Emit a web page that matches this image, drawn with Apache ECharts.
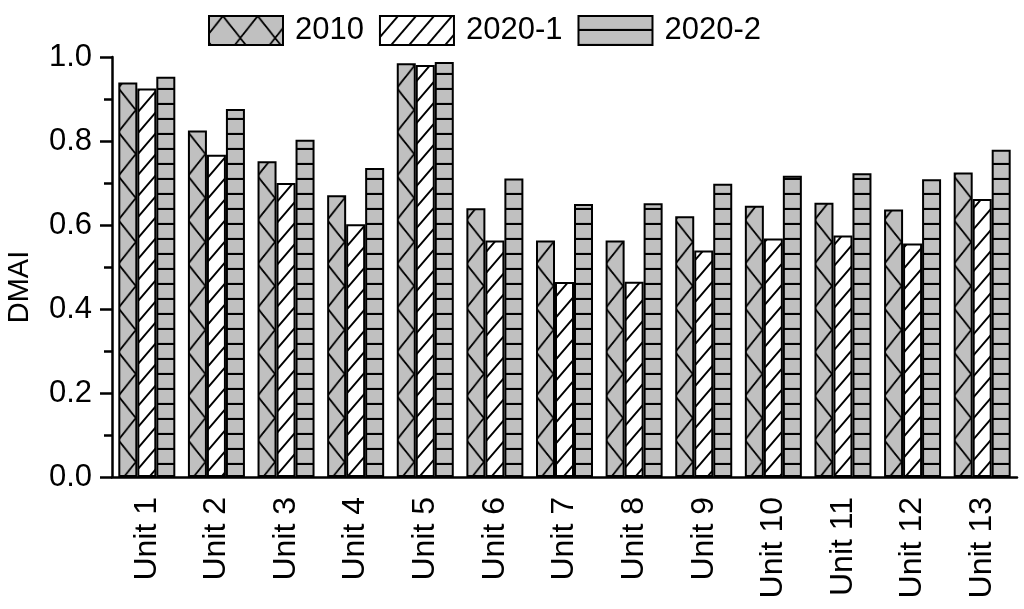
<!DOCTYPE html>
<html>
<head>
<meta charset="utf-8">
<script src="https://cdn.jsdelivr.net/npm/echarts@6/dist/echarts.min.js"></script>
<style>
html,body{margin:0;padding:0;background:#fff;}
#chart{width:1024px;height:609px;}
</style>
</head>
<body>
<div id="chart"></div>
<script>
const categories = ['Unit 1','Unit 2','Unit 3','Unit 4','Unit 5','Unit 6','Unit 7','Unit 8','Unit 9','Unit 10','Unit 11','Unit 12','Unit 13'];
const seriesNames = ['2010','2020-1','2020-2'];
const values2010  = [0.939,0.825,0.752,0.671,0.985,0.640,0.563,0.563,0.621,0.646,0.653,0.637,0.725];
const values2020a = [0.925,0.767,0.700,0.602,0.981,0.563,0.464,0.465,0.539,0.568,0.575,0.556,0.662];
const values2020b = [0.953,0.876,0.803,0.736,0.988,0.711,0.650,0.652,0.698,0.717,0.723,0.709,0.779];
const yTicks = [0.0,0.2,0.4,0.6,0.8,1.0];

function makeTile(w, h, bg, draw) {
  const c = document.createElement('canvas');
  c.width = w; c.height = h;
  const ctx = c.getContext('2d');
  ctx.fillStyle = bg; ctx.fillRect(0, 0, w, h);
  ctx.strokeStyle = '#000'; ctx.lineWidth = 1.9;
  draw(ctx, w, h);
  return c;
}
const grey = '#c0c0c0';
const crossTile = makeTile(38, 44, grey, (ctx, w, h) => {
  ctx.beginPath();
  ctx.moveTo(0, 0); ctx.lineTo(w / 2, h / 2); ctx.lineTo(0, h);
  ctx.moveTo(w, 0); ctx.lineTo(w / 2, h / 2); ctx.lineTo(w, h);
  ctx.stroke();
});
const diagTile = makeTile(18, 21, '#ffffff', (ctx, w, h) => {
  ctx.beginPath();
  ctx.moveTo(-w * 0.2, h * 1.2); ctx.lineTo(w * 1.2, -h * 0.2);
  ctx.moveTo(-w * 0.2, h * 0.2); ctx.lineTo(w * 0.2, -h * 0.2);
  ctx.moveTo(w * 0.8, h * 1.2); ctx.lineTo(w * 1.2, h * 0.8);
  ctx.stroke();
});
const horizTile = makeTile(8, 15, grey, (ctx, w, h) => {
  ctx.lineWidth = 2.2;
  ctx.beginPath();
  ctx.moveTo(0, h - 1); ctx.lineTo(w, h - 1);
  ctx.stroke();
});
const dataSets = [values2010, values2020a, values2020b];

// category width of the plot: (1024 - 112 - 7) / 13; cross-hatch repeats twice per category
const catW = (1024 - 112 - 7) / categories.length;
const crossScale = (catW / 2) / 38;
const patternObjs = [
  {image: crossTile, repeat: 'repeat', scaleX: crossScale, x: 112 + (catW - 57) / 2},
  {image: diagTile, repeat: 'repeat'},
  {image: horizTile, repeat: 'repeat'}
];

const font = "Arial, 'Liberation Sans', sans-serif";
const chart = echarts.init(document.getElementById('chart'), null, {renderer: 'canvas'});
const option = {
  animation: false,
  backgroundColor: '#fff',
  legend: {
    top: 15, left: 208, padding: 0,
    icon: 'rect',
    itemWidth: 74, itemHeight: 29, itemGap: 15,
    textStyle: {fontFamily: font, fontSize: 31, color: '#000', padding: [0, 0, 0, 7]},
    data: seriesNames
  },
  grid: {left: 112, right: 7, top: 57, bottom: 132, outerBoundsMode: 'none'},
  xAxis: {
    type: 'category', data: categories,
    axisLine: {lineStyle: {color: '#000', width: 2.5}},
    axisTick: {alignWithLabel: true, length: 12, lineStyle: {color: '#000', width: 2.5}},
    axisLabel: {rotate: 90, margin: 20, fontFamily: font, fontSize: 32, color: '#000'}
  },
  yAxis: {
    type: 'value', min: yTicks[0], max: yTicks[yTicks.length - 1], interval: 0.2,
    name: 'DMAI', nameLocation: 'middle', nameGap: 78,
    nameTextStyle: {fontFamily: font, fontSize: 29, color: '#000', padding: [0, 40, 0, 0]},
    axisLine: {show: true, lineStyle: {color: '#000', width: 2.5}},
    axisTick: {show: true, length: 12, lineStyle: {color: '#000', width: 2.5}},
    minorTick: {show: true, splitNumber: 2, length: 8, lineStyle: {color: '#000', width: 2.5}},
    axisLabel: {margin: 20, fontFamily: font, fontSize: 31, color: '#000',
      formatter: v => v.toFixed(1)},
    splitLine: {show: false}
  },
  series: seriesNames.map((name, i) => ({
    name: name, type: 'bar',
    data: dataSets[i],
    barWidth: 19, barGap: '0%',
    itemStyle: {
      color: patternObjs[i],
      borderColor: '#000', borderWidth: 2
    }
  }))
};
chart.setOption(option);
</script>
</body>
</html>
